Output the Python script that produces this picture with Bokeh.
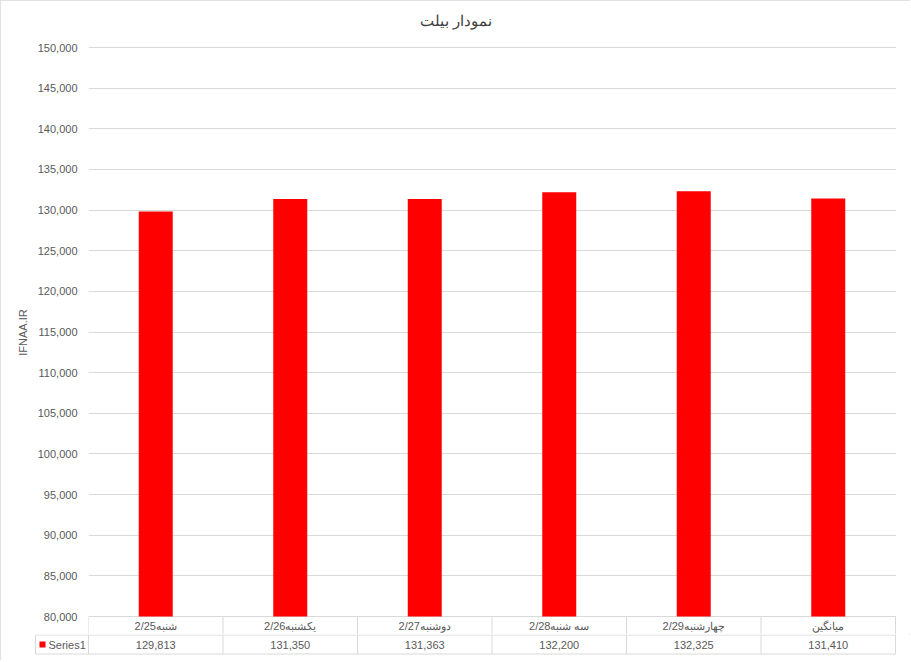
from bokeh.plotting import figure
from bokeh.models import Range1d, FixedTicker, NumeralTickFormatter, Title
from bokeh.layouts import column
from bokeh.embed import file_html
from bokeh.resources import INLINE
from bokeh.core.properties import value

# ---------------- data ----------------
title_text = "نمودار بیلت"
y_label = "IFNAA.IR"
categories = ["شنبه2/25", "یکشنبه2/26", "دوشنبه2/27", "سه شنبه2/28", "چهارشنبه2/29", "میانگین"]
values = [129813, 131350, 131363, 132200, 132325, 131410]
series_name = "Series1"
y_ticks = list(range(80000, 150001, 5000))
value_labels = [f"{v:,}" for v in values]

# ---------------- style / layout ----------------
FONT = "Liberation Sans"
GRID = "#d9d9d9"
TXT = "#595959"
BAR = "#ff0000"
W = 910
LEFT, TOP = 88, 30
TOP_GAP = 17                      # px between frame top and highest tick
PLOT_W = 807                      # px between first and last category boundary
PX = PLOT_W / len(categories)     # px per category
RIGHT = W - LEFT - PLOT_W - 1
GRID_PX = 569                     # px from lowest to highest tick
U = (y_ticks[-1] - y_ticks[0]) / GRID_PX
ROW_PX = 18                       # category-label row below the plot area
FRAME_H = TOP_GAP + GRID_PX + ROW_PX
FRAME_BOTTOM = TOP + FRAME_H      # canvas px

n = len(categories)
xs = [i + 0.5 for i in range(n)]
y_start = y_ticks[0] - ROW_PX * U

# ---------------- main chart (plot area + category row) ----------------
p = figure(width=W, height=FRAME_BOTTOM, output_backend="svg", toolbar_location=None,
           x_range=Range1d(0, n + 1 / PX), y_range=Range1d(y_start, y_ticks[-1] + TOP_GAP * U),
           x_axis_location=None, min_border_left=LEFT, min_border_right=RIGHT,
           min_border_top=TOP, min_border_bottom=0)
p.title = Title(text=title_text, align="left", offset=331, vertical_align="bottom", standoff=4,
                text_font=FONT, text_font_size="15px", text_font_style="normal",
                text_color="#404040")
p.outline_line_color = None
p.background_fill_color = "white"
p.border_fill_color = "white"
p.xgrid.visible = False
p.ygrid.ticker = FixedTicker(ticks=y_ticks)
p.ygrid.grid_line_color = GRID
p.yaxis.ticker = FixedTicker(ticks=y_ticks)
p.yaxis.formatter = NumeralTickFormatter(format="0,0")
p.yaxis.axis_line_color = None
p.yaxis.major_tick_line_color = None
p.yaxis.minor_tick_line_color = None
p.yaxis.major_tick_out = 0
p.yaxis.major_label_standoff = 11
p.yaxis.major_label_text_font = FONT
p.yaxis.major_label_text_font_size = "11px"
p.yaxis.major_label_text_color = TXT
p.yaxis.axis_label = y_label
p.yaxis.axis_label_text_font = FONT
p.yaxis.axis_label_text_font_size = "11px"
p.yaxis.axis_label_text_font_style = "normal"
p.yaxis.axis_label_text_color = TXT
p.yaxis.axis_label_standoff = 6

p.vbar(x=xs, top=values, bottom=y_ticks[0], width=34 / PX, fill_color=BAR, line_color=None)

# category row of the data table
p.segment(x0=list(range(n + 1)), y0=[y_ticks[0]] * (n + 1), x1=list(range(n + 1)),
          y1=[y_start] * (n + 1), line_color=GRID, line_width=1)
p.text(x=xs, y=[y_ticks[0] - 9.5 * U] * n, text=categories, text_align="center",
       text_baseline="middle", text_font=value(FONT), text_font_size="11px", text_color=TXT)

# ---------------- value row of the data table ----------------
EXTRA_L = 55                       # px left of the first category for the Series1 cell
T_LEFT = LEFT - EXTRA_L
T_RIGHT = RIGHT - 2
T_FW = W - T_LEFT - T_RIGHT
ROW = 19
T_FH = 21
x0 = -EXTRA_L / PX
t = figure(width=W, height=T_FH + 5, output_backend="svg", toolbar_location=None,
           x_range=Range1d(x0, x0 + T_FW / PX), y_range=Range1d(-1.5 / ROW, 1 + 0.5 / ROW),
           x_axis_location=None, y_axis_location=None,
           min_border_left=T_LEFT, min_border_right=T_RIGHT, min_border_top=0, min_border_bottom=5)
t.outline_line_color = None
t.grid.visible = False
t.background_fill_color = "white"
t.border_fill_color = "white"

# keep each figure's own frame (no cross-figure frame alignment)
p.frame_align = False
t.frame_align = False

cell_left = -53 / PX
vx = [cell_left] + list(range(n + 1))
t.segment(x0=vx, y0=[0] * len(vx), x1=vx, y1=[1] * len(vx), line_color=GRID, line_width=1)
t.segment(x0=[cell_left, cell_left], y0=[1, 0], x1=[n, n], y1=[1, 0], line_color=GRID, line_width=1)

t.text(x=xs, y=[0.5] * n, text=value_labels, text_align="center", text_baseline="middle",
       text_font=value(FONT), text_font_size="11px", text_color=TXT)
t.rect(x=[(42 - LEFT) / PX], y=[0.5], width=6, height=6, width_units="screen", height_units="screen",
       fill_color=BAR, line_color=None)
t.text(x=[(48 - LEFT) / PX], y=[0.5], text=[series_name], text_align="left", text_baseline="middle",
       text_font=value(FONT), text_font_size="11px", text_color=TXT)

layout = column(p, t, spacing=0,
                styles={"outline": "1px solid #d9d9d9", "outline-offset": "-1px"})
open("out.html", "w").write(file_html(layout, INLINE))
